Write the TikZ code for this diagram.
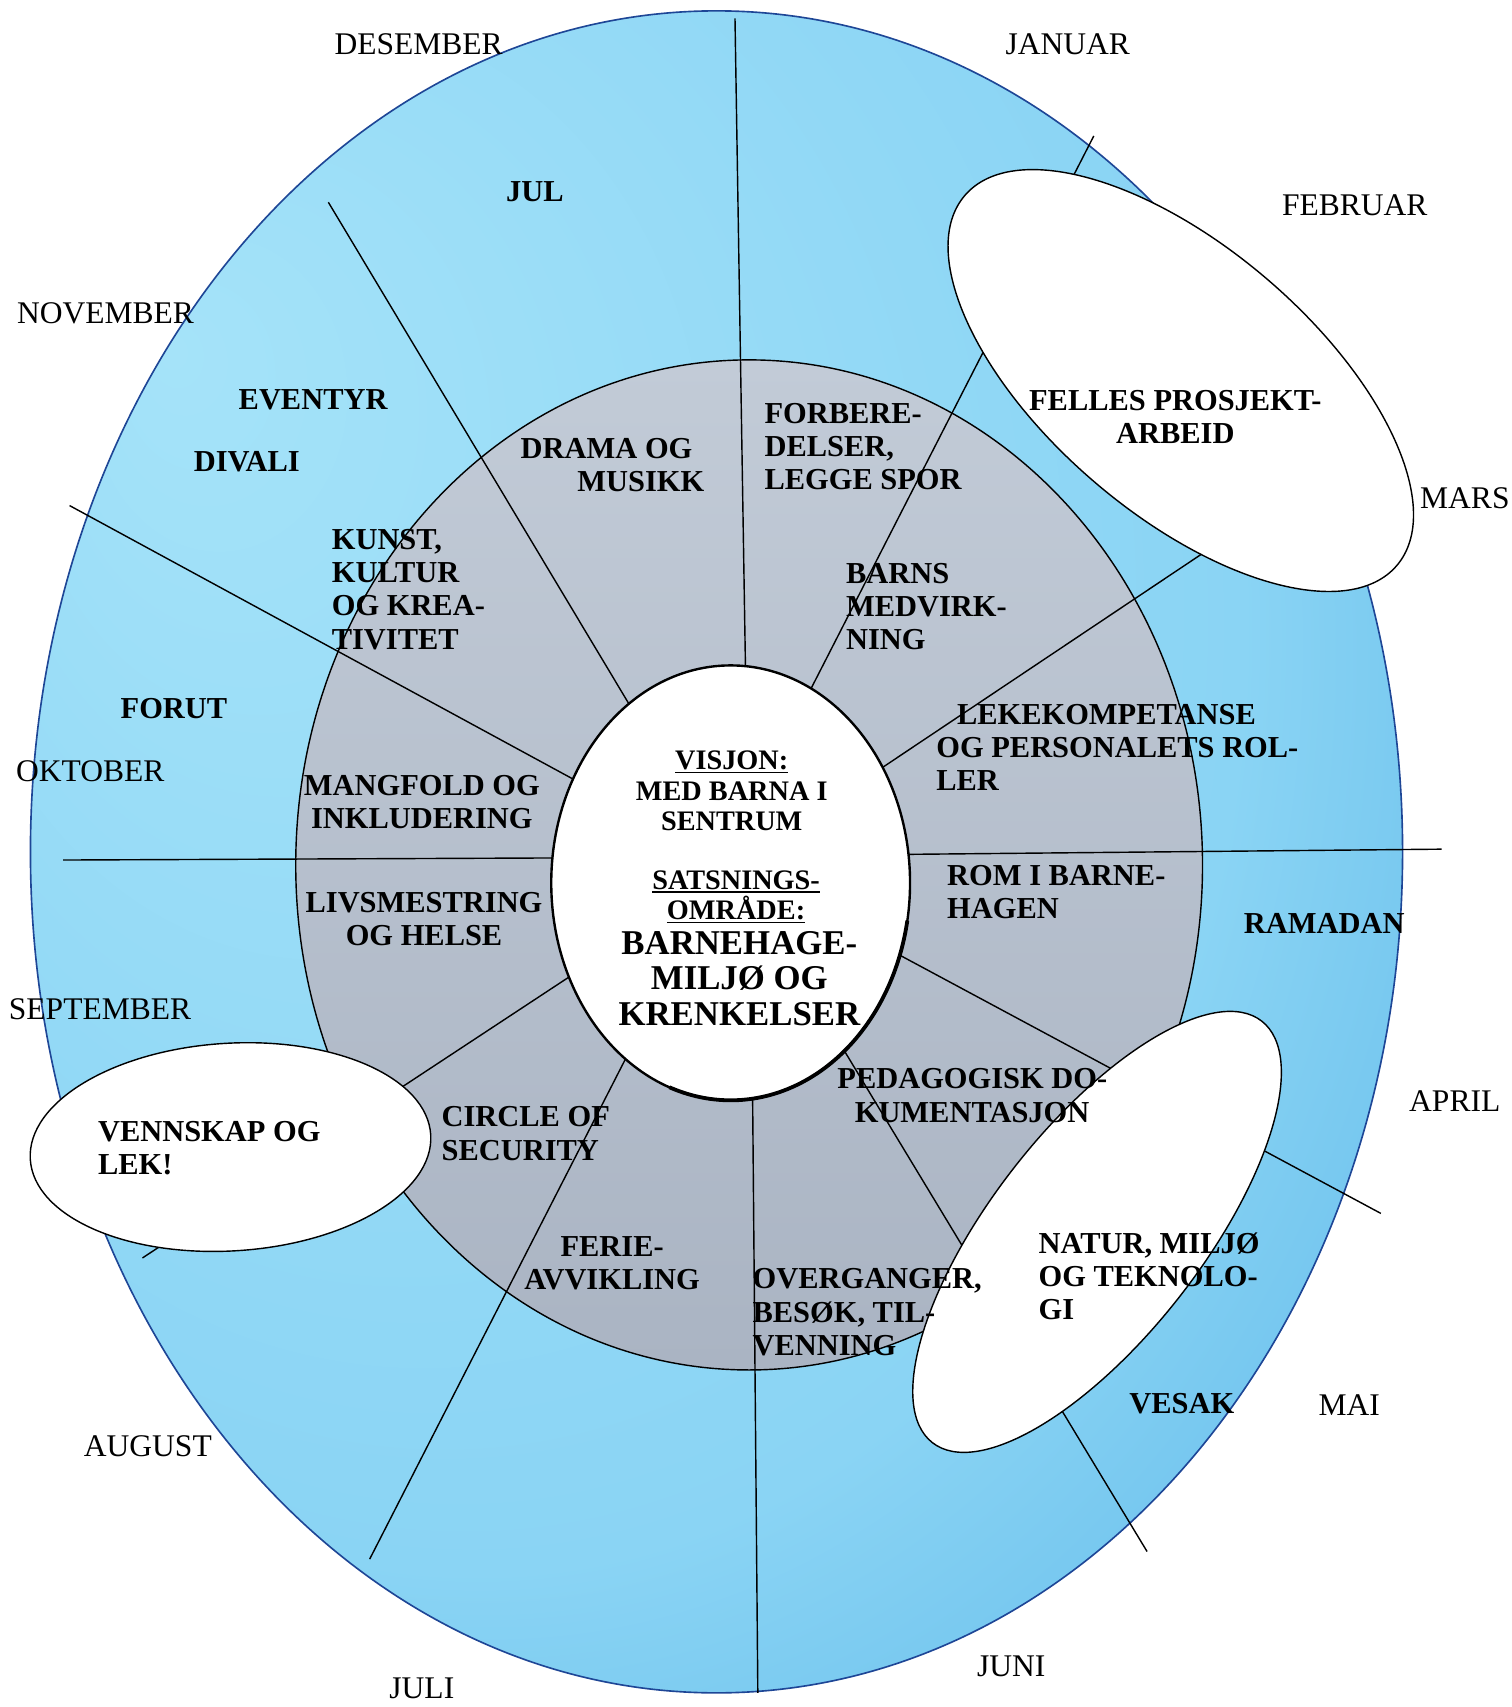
\documentclass[tikz,border=0pt]{standalone}
\usepackage{fontspec}
\setmainfont{Liberation Serif}
\usepackage{tikz}
\newcommand{\ulword}[1]{\vtop{\hbox{#1}\kern1.5pt\hrule height 1.6pt}}

\definecolor{rimblue}{RGB}{30,70,150}
\definecolor{blueA}{RGB}{165,227,249}
\definecolor{blueB}{RGB}{138,212,244}
\definecolor{blueC}{RGB}{88,180,232}
\definecolor{blueD}{RGB}{58,156,222}
\definecolor{grayA}{RGB}{194,203,215}
\definecolor{grayB}{RGB}{170,180,195}
\pgfdeclareradialshading{ringshade}{\pgfpoint{-20bp}{15bp}}%
  {color(0bp)=(blueA); color(28bp)=(blueB); color(42bp)=(blueC); color(50bp)=(blueD)}

\begin{document}
\begin{tikzpicture}[x=1pt,y=-1pt,
  month/.style={font=\fontsize{29}{31}\selectfont,inner sep=0pt},
  topic/.style={font=\bfseries\fontsize{28}{30.5}\selectfont,inner sep=0pt,align=left},
  core/.style={font=\bfseries\fontsize{26}{28}\selectfont,inner sep=0pt,align=center},
  spoke/.style={black,line width=1.3pt},
  bubble/.style={draw=black,line width=1.3pt,fill=white}]
  \useasboundingbox (0,0) rectangle (1390,1570);
  % year ring and topic ring
  \shade[shading=ringshade] (659,783.5) ellipse [x radius=631, y radius=773.5];
  \draw[rimblue,line width=1.5pt] (659,783.5) ellipse [x radius=631, y radius=773.5];
  \shade[top color=grayA,bottom color=grayB] (689,795.5) ellipse [x radius=417, y radius=464.5];
  \draw[line width=1.3pt] (689,795.5) ellipse [x radius=417, y radius=464.5];
  % spokes
  \draw[spoke] (686,637) -- (676,17);
  \draw[spoke] (592,670) -- (302,186);
  \draw[spoke] (550,729) -- (64,465);
  \draw[spoke] (531,789) -- (58,791);
  \draw[spoke] (544,885) -- (131,1157);
  \draw[spoke] (586,953) -- (340,1434);
  \draw[spoke] (692,985) -- (697,1557);
  \draw[spoke] (766,949) -- (1055,1427);
  \draw[spoke] (808,868) -- (1270,1116);
  \draw[spoke] (812,786) -- (1326,781);
  \draw[spoke] (795,717) -- (1130,493);
  \draw[spoke] (742,641) -- (1006,125);
  % white bubbles
  \draw[bubble,line width=2.2pt] (672,812) ellipse [x radius=165, y radius=200];
  \draw[line width=3.5pt] (672,812) ++(10:165 and 200)
    arc [start angle=10, end angle=110, x radius=165, y radius=200];
  \draw[bubble,shift={(1086,350)},rotate=-40.6] (0,0) ellipse [x radius=261.6, y radius=122.5];
  \draw[bubble,shift={(1009,1133)},rotate=52] (0,0) ellipse [x radius=246, y radius=96.5];
  \draw[bubble,shift={(212,1055)},rotate=3.5] (0,0) ellipse [x radius=184.5, y radius=95.5];
  % months
  \node[month] (des) at (385,41) {DESEMBER};
  \node[month] (jan) at (982,41) {JANUAR};
  \node[month] (feb) at (1246,189) {FEBRUAR};
  \node[month,anchor=west] (mar) at (1306,458) {MARS};
  \node[month] (apr) at (1338,1013) {APRIL};
  \node[month] (mai) at (1241,1292) {MAI};
  \node[month] (jun) at (930,1533) {JUNI};
  \node[month] (jul) at (388,1553) {JULI};
  \node[month] (aug) at (136,1330) {AUGUST};
  \node[month] (sep) at (92,928) {SEPTEMBER};
  \node[month] (okt) at (83,709) {OKTOBER};
  \node[month] (nov) at (97,288) {NOVEMBER};
  % events in the year ring
  \node[topic] (julfest) at (492,176) {JUL};
  \node[topic] (eventyr) at (288,368) {EVENTYR};
  \node[topic] (divali) at (227,425) {DIVALI};
  \node[topic] (forut) at (160,652) {FORUT};
  \node[topic] (ramadan) at (1218,849) {RAMADAN};
  \node[topic] (vesak) at (1087,1291) {VESAK};
  % topics in the gray ring
  \node[topic,anchor=north west] (forbered) at (703,370.7) {FORBERE-\\DELSER,\\LEGGE SPOR};
  \node[topic,anchor=north west] (barns) at (778,517.7) {BARNS\\MEDVIRK-\\NING};
  \node[topic,anchor=north west] (leke) at (861,647.7)
    {\hspace*{19pt}LEKEKOMPETANSE\\OG PERSONALETS ROL-\\LER};
  \node[topic,anchor=north west] (rom) at (871,795.7) {ROM I BARNE-\\HAGEN};
  \node[topic,anchor=north west] (pedagog) at (770,982.7)
    {PEDAGOGISK DO-\\\hspace*{16pt}KUMENTASJON};
  \node[topic,anchor=north west] (overgang) at (692,1166.7) {OVERGANGER,\\BESØK, TIL-\\VENNING};
  \node[topic,anchor=north,align=center] (ferie) at (563,1136.7) {FERIE-\\AVVIKLING};
  \node[topic,anchor=north west] (circle) at (406,1017.7) {CIRCLE OF\\SECURITY};
  \node[topic,anchor=north,align=center] (livs) at (390,820.7) {LIVSMESTRING\\OG HELSE};
  \node[topic,anchor=north,align=center] (mangfold) at (388,712.7) {MANGFOLD OG\\INKLUDERING};
  \node[topic,anchor=north west] (kunst) at (305,486.7) {KUNST,\\KULTUR\\OG KREA-\\TIVITET};
  \node[topic,anchor=north east,align=right] (drama) at (648,402.7)
    {DRAMA OG\hspace*{11pt}\\MUSIKK};
  % bubble texts
  \node[topic,anchor=north,align=center] (felles) at (1081,358.7) {FELLES PROSJEKT-\\ARBEID};
  \node[topic,anchor=north west] (natur) at (955,1133.7) {NATUR, MILJØ\\OG TEKNOLO-\\GI};
  \node[topic,anchor=north west] (venn) at (90,1030.7) {VENNSKAP OG\\LEK!};
  \node[core,anchor=north] (visjon) at (673,690.4) {\ulword{VISJON:}\\MED BARNA I\\SENTRUM};
  \node[core,anchor=north] (satsing) at (677,800.4) {\ulword{SATSNINGS-}\\\ulword{OMRÅDE:}};
  \node[core,anchor=north,font=\bfseries\fontsize{32}{32.5}\selectfont] (tema) at (680,856.4)
    {BARNEHAGE-\\MILJØ OG\\KRENKELSER};
\end{tikzpicture}
\end{document}
